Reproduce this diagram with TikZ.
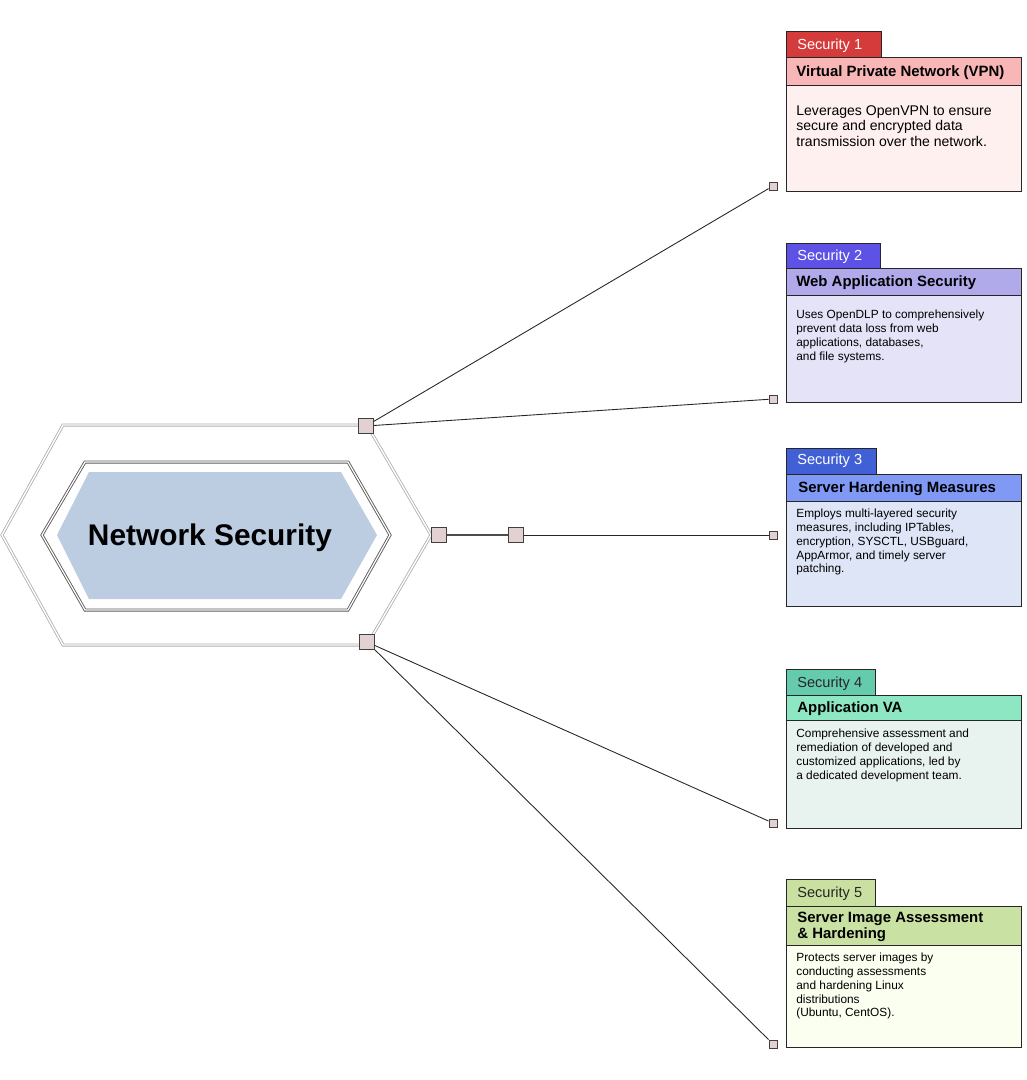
\documentclass[tikz,border=0pt]{standalone}
\usepackage{fontspec}
\setmainfont{Liberation Sans}
\usepackage{tikz}
\usepackage{xcolor}

\definecolor{tabA}{HTML}{D63B3B}\definecolor{headA}{HTML}{F8B6B6}\definecolor{bodyA}{HTML}{FFF0F0}
\definecolor{tabB}{HTML}{5E52E6}\definecolor{headB}{HTML}{B0A9EA}\definecolor{bodyB}{HTML}{E5E3F8}
\definecolor{tabC}{HTML}{4260D6}\definecolor{headC}{HTML}{7F99F5}\definecolor{bodyC}{HTML}{DDE5F6}
\definecolor{tabD}{HTML}{64CBAD}\definecolor{headD}{HTML}{8EE7C3}\definecolor{bodyD}{HTML}{E8F2EF}
\definecolor{tabE}{HTML}{C9E0A0}\definecolor{headE}{HTML}{C9E1A3}\definecolor{bodyE}{HTML}{FAFFF0}
\definecolor{hexfill}{HTML}{BCCCE1}
\definecolor{portfill}{HTML}{E3D0D0}

\begin{document}
\begin{tikzpicture}[x=0.02cm,y=-0.02cm,
  every node/.style={font=\fontsize{8.3}{10}\selectfont},
  port/.style={draw=black!75,fill=portfill,minimum size=0.3cm,inner sep=0pt,line width=0.6pt},
  term/.style={draw=black!75,fill=portfill,minimum size=0.16cm,inner sep=0pt,line width=0.5pt},
  link/.style={draw=black!85,line width=0.5pt},
  tabtxt/.style={anchor=west,inner sep=0pt},
  headtxt/.style={anchor=west,inner sep=0pt,align=left,font=\fontsize{8.5}{9.2}\selectfont\bfseries},
  bodytxt/.style={anchor=north west,inner sep=0pt,align=left,font=\fontsize{6.75}{7.9}\selectfont},
  box/.style={draw=black!85,line width=0.5pt}]
\useasboundingbox (0,0) rectangle (1027,1080);
% central hexagons
\draw[gray!65,line width=0.45pt,double=white,double distance=0.8pt]
  (2,535) -- (63,425) -- (367,425) -- (431,535) -- (367,645) -- (63,645) -- cycle;
\draw[black!65,line width=0.5pt,double=white,double distance=0.7pt]
  (42,535) -- (85,462) -- (348,462) -- (390,535) -- (348,610) -- (85,610) -- cycle;
\fill[hexfill] (57,535) -- (89,472) -- (341,472) -- (377,535) -- (341,599) -- (89,599) -- cycle;
\node[font=\fontsize{17}{20}\selectfont\bfseries] (core) at (210,538) {Network Security};
% ports
\node[port] (p1) at (366,426) {};
\node[port] (p2) at (439,535) {};
\node[port] (p3) at (516,535) {};
\node[port] (p4) at (367,642) {};
\node[term] (t1) at (773,186) {};
\node[term] (t2) at (773,399) {};
\node[term] (t3) at (773,535) {};
\node[term] (t4) at (773,823) {};
\node[term] (t5) at (773,1044) {};
% connectors
\draw[link] (p1) -- (t1);
\draw[link] (p1) -- (t2);
\draw[link,black!70,line width=0.8pt] (p2) -- (p3);
\draw[link] (p3) -- (t3);
\draw[link] (p4) -- (t4);
\draw[link] (p4) -- (t5);
% card 1
\fill[tabA] (786,31) rectangle (881,57);
\draw[box] (786,31) rectangle (881,57);
\node[tabtxt,text=white] (tab1) at (797,45.5) {Security 1};
\fill[headA] (786,57) rectangle (1021,85);
\draw[box] (786,57) rectangle (1021,85);
\node[headtxt] (head1) at (796,72.5) {Virtual Private Network (VPN)};
\fill[bodyA] (786,85) rectangle (1021,191);
\draw[box] (786,85) rectangle (1021,191);
\node[bodytxt,font=\fontsize{8}{9}\selectfont] (body1) at (796,105) {Leverages OpenVPN to ensure\\secure and encrypted data\\transmission over the network.};
% card 2
\fill[tabB] (786,243) rectangle (880,268);
\draw[box] (786,243) rectangle (880,268);
\node[tabtxt,text=white] (tab2) at (797,256.5) {Security 2};
\fill[headB] (786,268) rectangle (1021,295);
\draw[box] (786,268) rectangle (1021,295);
\node[headtxt] (head2) at (796,282.5) {Web Application Security};
\fill[bodyB] (786,295) rectangle (1021,402);
\draw[box] (786,295) rectangle (1021,402);
\node[bodytxt] (body2) at (796,309.5) {Uses OpenDLP to comprehensively\\prevent data loss from web\\applications, databases,\\and file systems.};
% card 3
\fill[tabC] (786,448) rectangle (876,474);
\draw[box] (786,448) rectangle (876,474);
\node[tabtxt,text=white] (tab3) at (797,460.5) {Security 3};
\fill[headC] (786,474) rectangle (1021,501);
\draw[box] (786,474) rectangle (1021,501);
\node[headtxt] (head3) at (798,488.5) {Server Hardening Measures};
\fill[bodyC] (786,501) rectangle (1021,606);
\draw[box] (786,501) rectangle (1021,606);
\node[bodytxt] (body3) at (796,508.5) {Employs multi-layered security\\measures, including IPTables,\\encryption, SYSCTL, USBguard,\\AppArmor, and timely server\\patching.};
% card 4
\fill[tabD] (786,669) rectangle (875,695);
\draw[box] (786,669) rectangle (875,695);
\node[tabtxt,text=black!85] (tab4) at (797,683.5) {Security 4};
\fill[headD] (786,695) rectangle (1021,720);
\draw[box] (786,695) rectangle (1021,720);
\node[headtxt] (head4) at (797,708.5) {Application VA};
\fill[bodyD] (786,720) rectangle (1021,828);
\draw[box] (786,720) rectangle (1021,828);
\node[bodytxt] (body4) at (796,728.5) {Comprehensive assessment and\\remediation of developed and\\customized applications, led by\\a dedicated development team.};
% card 5
\fill[tabE] (786,879) rectangle (875,906);
\draw[box] (786,879) rectangle (875,906);
\node[tabtxt,text=black!85] (tab5) at (797,893.5) {Security 5};
\fill[headE] (786,906) rectangle (1021,945);
\draw[box] (786,906) rectangle (1021,945);
\node[headtxt] (head5) at (797,926.5) {Server Image Assessment\\\& Hardening};
\fill[bodyE] (786,945) rectangle (1021,1047);
\draw[box] (786,945) rectangle (1021,1047);
\node[bodytxt] (body5) at (796,952.5) {Protects server images by\\conducting assessments\\and hardening Linux\\distributions\\(Ubuntu, CentOS).};
\end{tikzpicture}
\end{document}
